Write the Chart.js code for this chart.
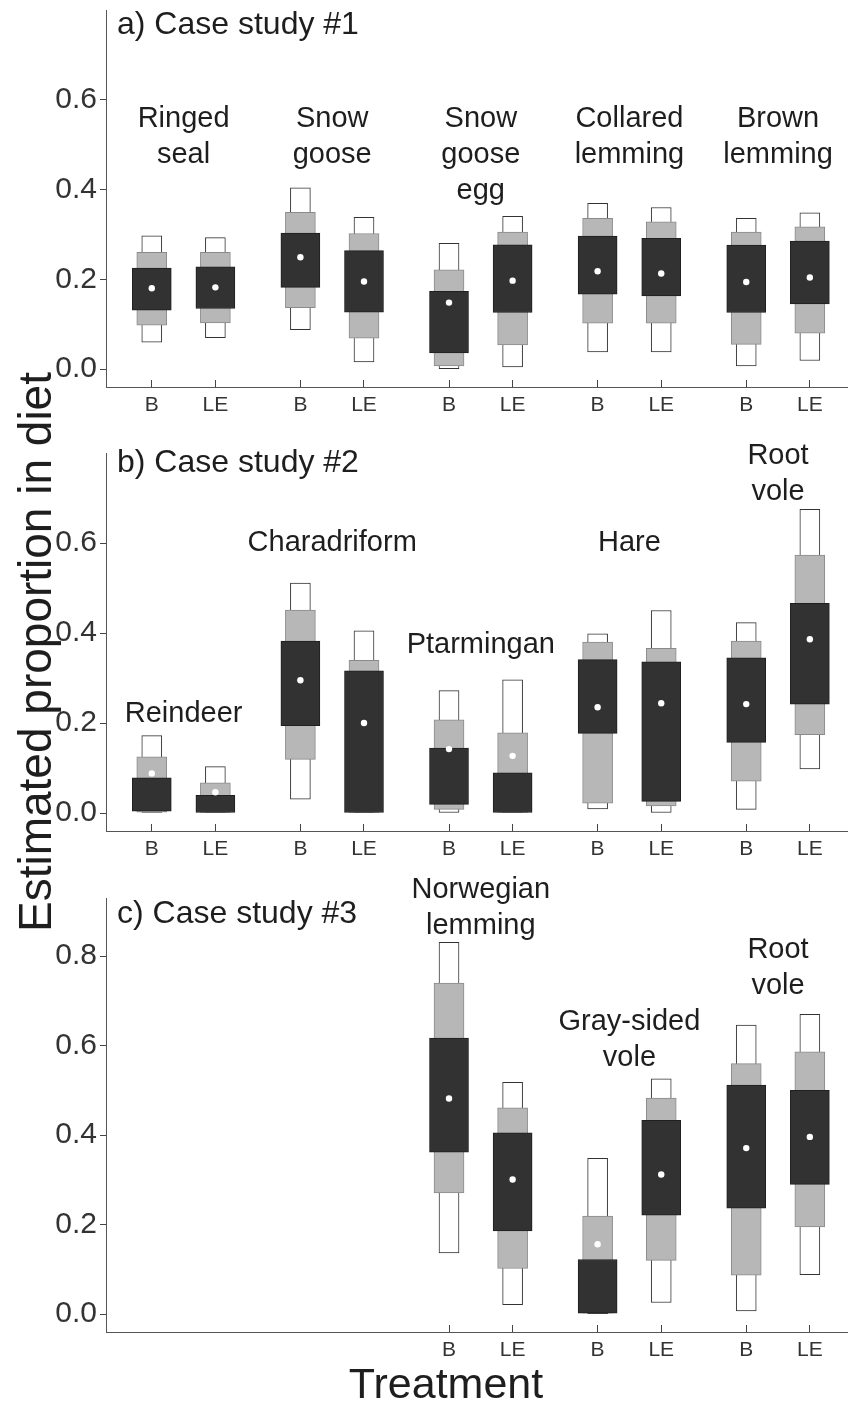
<!DOCTYPE html>
<html>
<head>
<meta charset="utf-8">
<script src="https://cdn.jsdelivr.net/npm/chart.js@4.4.1/dist/chart.umd.min.js"></script>
<style>
  body { margin: 0; background: #fff; }
  #page { position: relative; width: 851px; height: 1404px; overflow: hidden; font-family: "Liberation Sans", Arial, sans-serif; color: #1e1e1e; }
  canvas { position: absolute; left: 0; }
  .ytitle { position: absolute; left: -315px; top: 622px; width: 700px; height: 60px; line-height: 60px; text-align: center; font-size: 46px; transform: rotate(-90deg); }
  .xtitle { position: absolute; left: 246px; top: 1358px; width: 400px; height: 50px; line-height: 50px; text-align: center; font-size: 43px; }
</style>
</head>
<body>
<div id="page">
  <canvas id="panelA" width="851" height="430" style="top:0px"></canvas>
  <canvas id="panelB" width="851" height="434" style="top:440px"></canvas>
  <canvas id="panelC" width="851" height="515" style="top:860px"></canvas>
  <div class="ytitle">Estimated proportion in diet</div>
  <div class="xtitle">Treatment</div>
</div>
<script>
// treatments inside each prey group
const treatments = ['B', 'LE'];

// a) Case study #1  (values ordered B, LE for each prey)
const preyA = [['Ringed', 'seal'], ['Snow', 'goose'], ['Snow', 'goose', 'egg'], ['Collared', 'lemming'], ['Brown', 'lemming']];
const meanA = [0.180, 0.182, 0.249, 0.195, 0.148, 0.197, 0.218, 0.213, 0.194, 0.204];
const lo50A = [0.131, 0.135, 0.182, 0.127, 0.036, 0.126, 0.167, 0.163, 0.126, 0.145];
const hi50A = [0.225, 0.228, 0.303, 0.264, 0.173, 0.277, 0.296, 0.291, 0.276, 0.285];
const lo75A = [0.098, 0.103, 0.137, 0.069, 0.007, 0.054, 0.102, 0.102, 0.055, 0.080];
const hi75A = [0.260, 0.260, 0.349, 0.302, 0.221, 0.305, 0.336, 0.328, 0.305, 0.317];
const lo95A = [0.060, 0.070, 0.088, 0.016, 0.000, 0.005, 0.038, 0.038, 0.007, 0.019];
const hi95A = [0.297, 0.293, 0.404, 0.338, 0.280, 0.340, 0.369, 0.360, 0.336, 0.348];

// b) Case study #2
const preyB = [['Reindeer'], ['Charadriform'], ['Ptarmingan'], ['Hare'], ['Root', 'vole']];
const meanB = [0.088, 0.046, 0.295, 0.200, 0.142, 0.127, 0.235, 0.244, 0.242, 0.386];
const lo50B = [0.004, 0.000, 0.194, 0.000, 0.019, 0.000, 0.177, 0.026, 0.157, 0.242];
const hi50B = [0.078, 0.039, 0.382, 0.316, 0.144, 0.089, 0.341, 0.336, 0.345, 0.466];
const lo75B = [0.002, 0.000, 0.119, 0.000, 0.008, 0.000, 0.022, 0.016, 0.071, 0.174];
const hi75B = [0.125, 0.067, 0.451, 0.339, 0.207, 0.178, 0.380, 0.366, 0.382, 0.573];
const lo95B = [0.000, 0.000, 0.031, 0.000, 0.000, 0.000, 0.009, 0.000, 0.008, 0.098];
const hi95B = [0.172, 0.103, 0.511, 0.405, 0.272, 0.296, 0.398, 0.450, 0.423, 0.675];

// c) Case study #3 (only the last three prey slots are used)
const preyC = [['Norwegian', 'lemming'], ['Gray-sided', 'vole'], ['Root', 'vole']];
const meanC = [0.482, 0.301, 0.156, 0.312, 0.371, 0.396];
const lo50C = [0.362, 0.186, 0.002, 0.221, 0.237, 0.290];
const hi50C = [0.617, 0.405, 0.122, 0.433, 0.512, 0.500];
const lo75C = [0.271, 0.102, 0.002, 0.120, 0.087, 0.195];
const hi75C = [0.740, 0.461, 0.219, 0.483, 0.560, 0.586];
const lo95C = [0.137, 0.021, 0.000, 0.026, 0.007, 0.088];
const hi95C = [0.831, 0.518, 0.348, 0.526, 0.646, 0.670];

// y tick labels
const ticksAB = [0, 0.2, 0.4, 0.6];
const ticksC = [0, 0.2, 0.4, 0.6, 0.8];

const FONT = '"Liberation Sans", Arial, sans-serif';
const PAIR = 0.214;

const annotate = {
    id: 'annotate',
    afterDatasetsDraw(chart, args, opts) {
        const { ctx, chartArea, scales: { x, y } } = chart;
        ctx.save();
        ctx.fillStyle = '#1e1e1e';
        ctx.textAlign = 'center';
        ctx.textBaseline = 'middle';
        ctx.font = '29px ' + FONT;
        opts.prey.forEach((lines, i) => {
            const px = x.getPixelForValue(opts.groupStart + i);
            const py = y.getPixelForValue(opts.labelY[i]);
            lines.forEach((t, k) => ctx.fillText(t, px, py + k * 36));
        });
        ctx.textAlign = 'left';
        ctx.font = '32px ' + FONT;
        ctx.fillText(opts.title, chartArea.left + 11, opts.titleY);
        ctx.restore();
    }
};

function makePanel(id, p) {
    const xs = [];
    const tickLabels = [];
    p.prey.forEach((_, i) => {
        treatments.forEach((t, j) => {
            xs.push(p.groupStart + i + (j === 0 ? -PAIR : PAIR));
            tickLabels.push(t);
        });
    });
    const box = (lo, hi) => lo.map((v, k) => ({ x: xs[k], y: [v, hi[k]] }));

    new Chart(document.getElementById(id), {
        type: 'bar',
        data: {
            datasets: [
                {
                    type: 'scatter',
                    data: p.mean.map((v, k) => ({ x: xs[k], y: v })),
                    backgroundColor: '#ffffff',
                    borderWidth: 0,
                    pointRadius: 3.2,
                    order: 0
                },
                {
                    data: box(p.lo50, p.hi50),
                    backgroundColor: '#323232',
                    borderColor: '#1f1f1f',
                    borderWidth: 1,
                    borderSkipped: false,
                    barThickness: 39,
                    grouped: false,
                    order: 1
                },
                {
                    data: box(p.lo75, p.hi75),
                    backgroundColor: '#b7b7b7',
                    borderColor: '#8a8a8a',
                    borderWidth: 1,
                    borderSkipped: false,
                    barThickness: 30,
                    grouped: false,
                    order: 2
                },
                {
                    data: box(p.lo95, p.hi95),
                    backgroundColor: '#ffffff',
                    borderColor: '#333333',
                    borderWidth: 1,
                    borderSkipped: false,
                    barThickness: 20,
                    grouped: false,
                    order: 3
                }
            ]
        },
        options: {
            responsive: false,
            animation: false,
            devicePixelRatio: 1,
            layout: { padding: { top: p.padTop, right: 0, left: 0, bottom: 0 } },
            plugins: {
                legend: { display: false },
                tooltip: { enabled: false },
                annotate: { prey: p.prey, groupStart: p.groupStart, labelY: p.labelY, title: p.title, titleY: p.titleY }
            },
            scales: {
                x: {
                    type: 'linear',
                    min: 0.478,
                    max: 5.464,
                    offset: false,
                    afterBuildTicks: s => { s.ticks = xs.map(v => ({ value: v })); },
                    afterFit: s => { s.height = 43; s.paddingLeft = 0; s.paddingRight = 0; },
                    ticks: {
                        autoSkip: false,
                        maxRotation: 0,
                        padding: 13,
                        color: '#333',
                        font: { family: FONT, size: 21 },
                        callback: (v, i) => tickLabels[i]
                    },
                    grid: { offset: false, drawOnChartArea: false, drawTicks: true, tickLength: -7, color: '#444' },
                    border: { color: '#555', width: 1 }
                },
                y: {
                    min: -0.04,
                    max: p.yMax,
                    afterBuildTicks: s => { s.ticks = p.yTicks.map(v => ({ value: v })); },
                    afterFit: s => { s.width = 106; s.paddingTop = 0; s.paddingBottom = 0; },
                    ticks: {
                        padding: 3,
                        color: '#333',
                        font: { family: FONT, size: 30 },
                        callback: v => v.toFixed(1)
                    },
                    grid: { drawOnChartArea: false, drawTicks: true, tickLength: 6, color: '#444' },
                    border: { color: '#555', width: 1 }
                }
            }
        },
        plugins: [annotate]
    });
}

makePanel('panelA', {
    prey: preyA, groupStart: 1, mean: meanA,
    lo50: lo50A, hi50: hi50A, lo75: lo75A, hi75: hi75A, lo95: lo95A, hi95: hi95A,
    yMax: 0.8, yTicks: ticksAB, padTop: 10,
    labelY: [0.558, 0.558, 0.558, 0.558, 0.558],
    title: 'a) Case study #1', titleY: 25
});

makePanel('panelB', {
    prey: preyB, groupStart: 1, mean: meanB,
    lo50: lo50B, hi50: hi50B, lo75: lo75B, hi75: hi75B, lo95: lo95B, hi95: hi95B,
    yMax: 0.8, yTicks: ticksAB, padTop: 13,
    labelY: [0.220, 0.600, 0.373, 0.600, 0.794],
    title: 'b) Case study #2', titleY: 23
});

makePanel('panelC', {
    prey: preyC, groupStart: 3, mean: meanC,
    lo50: lo50C, hi50: hi50C, lo75: lo75C, hi75: hi75C, lo95: lo95C, hi95: hi95C,
    yMax: 0.93, yTicks: ticksC, padTop: 38,
    labelY: [0.947, 0.653, 0.813],
    title: 'c) Case study #3', titleY: 54
});
</script>
</body>
</html>
